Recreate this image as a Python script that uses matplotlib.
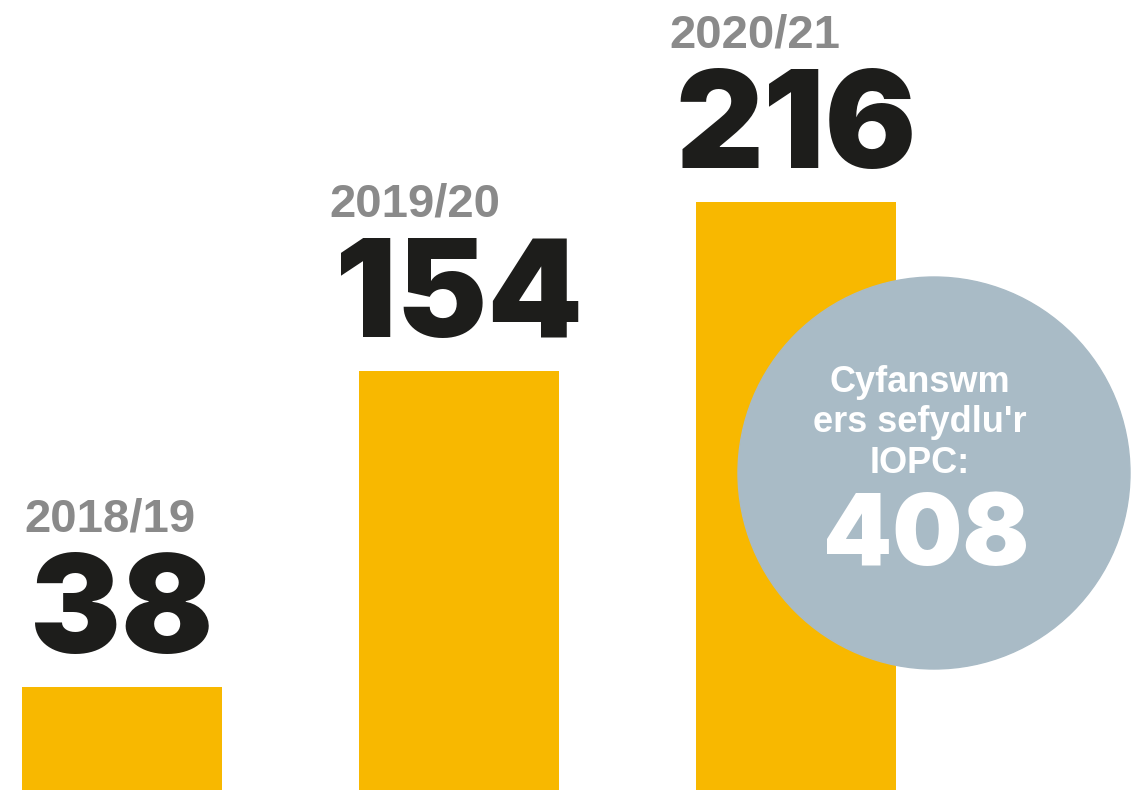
import matplotlib
matplotlib.use("Agg")
import matplotlib.pyplot as plt
from matplotlib.patches import Ellipse

# data
years = ["2018/19", "2019/20", "2020/21"]
counts = [38, 154, 216]
total_lines = ["Cyfanswm", "ers sefydlu'r", "IOPC:"]
total = 408

plt.rcParams["font.family"] = ["Liberation Sans", "DejaVu Sans"]
big_font = ["Inter", "Liberation Sans"]

fig = plt.figure(figsize=(11.45, 7.9), dpi=100)
ax = fig.add_axes([0, 0, 1, 1])

x = list(range(len(years)))
ax.bar(x, counts, width=0.593, color="#f8b800", zorder=1)
ax.set_xlim(-0.362, 3.036)
ax.set_ylim(0, 290.4)
ax.axis("off")

# big numbers above each bar, year label above the number (left aligned)
for xi, yr, n in zip(x, years, counts):
    num = ax.annotate(str(n), xy=(xi, n), xytext=(0, 24.5),
                      textcoords="offset points", ha="center", va="baseline",
                      fontsize=98, fontweight="black", family=big_font,
                      color="#1d1d1b")
    ax.annotate(yr, xy=(0, n), xycoords=(num, "data"), xytext=(-4, 111.6),
                textcoords="offset points", ha="left", va="baseline",
                fontsize=34, fontweight="bold", color="#8a8a8a")

# total bubble
circle = Ellipse((934 / 1145, 1 - 473 / 790), 392 / 1145, 392 / 790,
                 transform=ax.transAxes, color="#a9bbc6", zorder=3)
ax.add_patch(circle)

for i, line in enumerate(total_lines):
    ax.text(920 / 1145, 1 - (392 + 40.5 * i) / 790, line,
            transform=ax.transAxes, ha="center", va="baseline",
            fontsize=26, fontweight="bold", color="white", zorder=4)
ax.text(926 / 1145, 1 - 565 / 790, str(total), transform=ax.transAxes,
        ha="center", va="baseline", fontsize=71, fontweight="black",
        family=big_font, color="white", zorder=4)

fig.savefig("out.png", dpi=100, facecolor="white")
